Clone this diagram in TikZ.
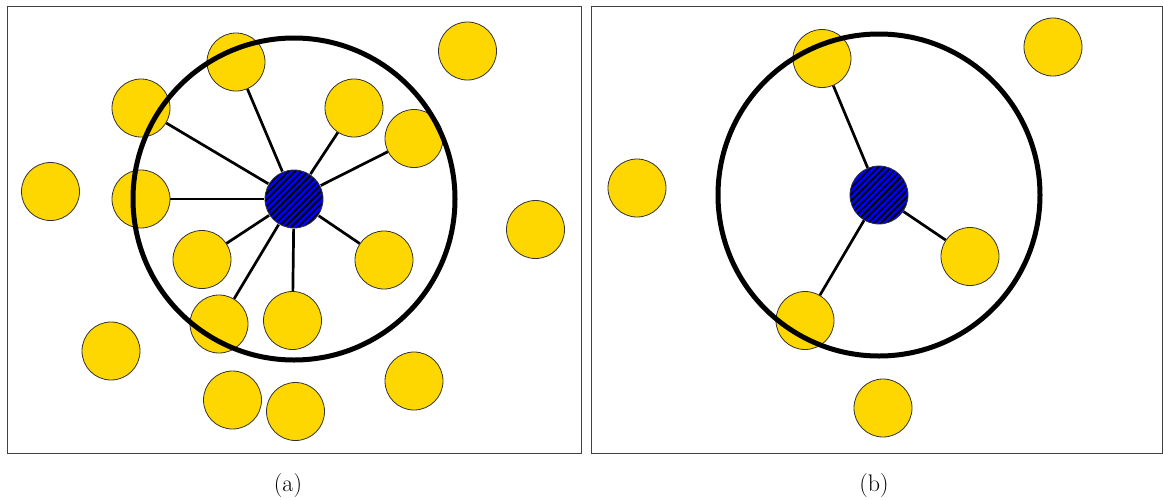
\documentclass[tikz,border=0pt]{standalone}
\usetikzlibrary{patterns.meta}
\definecolor{gold}{HTML}{FFD700}
\definecolor{framegray}{HTML}{404040}
\tikzset{
  ball/.style={circle, draw=black!80, line width=0.8pt, fill=gold, minimum size=58pt, inner sep=0pt},
  hubnode/.style={circle, draw=black!80, line width=0.8pt, minimum size=58pt, inner sep=0pt,
    preaction={fill=blue}, pattern={Lines[angle=45,distance=4.6pt,line width=1.8pt]}, pattern color=black},
  linkline/.style={line width=2.7pt},
  rangecircle/.style={line width=5pt},
  panelbox/.style={draw=framegray, line width=1pt},
  captiontext/.style={font=\fontsize{24}{28}\selectfont, anchor=base}
}
\begin{document}
\begin{tikzpicture}[x=1pt,y=-1pt]
\useasboundingbox (0,0) rectangle (1163,499);
\fill[white] (0,0) rectangle (1163,499);
% panels
\node[panelbox, minimum width=574pt, minimum height=447pt, inner sep=0pt] (pa) at (294,229.5) {};
\node[panelbox, minimum width=571pt, minimum height=447pt, inner sep=0pt] (pb) at (876.5,229.5) {};
% ---------- panel (a) ----------
\coordinate (ca) at (294,199);
\node[ball] (a1) at (236,62) {};
\node[ball] (a2) at (141,108) {};
\node[ball] (a3) at (141,199) {};
\node[ball] (a4) at (50.5,191.5) {};
\node[ball] (a5) at (467.5,51) {};
\node[ball] (a6) at (354,108) {};
\node[ball] (a7) at (414,138.5) {};
\node[ball] (a8) at (535.5,229.5) {};
\node[ball] (a9) at (202,259.5) {};
\node[ball] (a10) at (384,260) {};
\node[ball] (a11) at (219,324) {};
\node[ball] (a12) at (292.5,320.5) {};
\node[ball] (a13) at (111,351) {};
\node[ball] (a14) at (232.5,400) {};
\node[ball] (a15) at (295.5,411.5) {};
\node[ball] (a16) at (414,381) {};
\node[hubnode] (ba) at (ca) {};
\foreach \t in {a1,a2,a3,a6,a7,a9,a10,a11,a12}
  \draw[linkline] (ba) -- (\t);
\draw[rangecircle] (ca) circle[radius=161];
\node[captiontext] (capa) at (288,491) {(a)};
% ---------- panel (b) ----------
\coordinate (cb) at (879,195);
\node[ball] (b1) at (822,58.5) {};
\node[ball] (b2) at (637,188) {};
\node[ball] (b3) at (1053,47) {};
\node[ball] (b4) at (970,256.5) {};
\node[ball] (b5) at (805,320.5) {};
\node[ball] (b6) at (883,408) {};
\node[hubnode] (bb) at (cb) {};
\foreach \t in {b1,b4,b5}
  \draw[linkline] (bb) -- (\t);
\draw[rangecircle] (cb) circle[radius=161];
\node[captiontext] (capb) at (874,491) {(b)};
\end{tikzpicture}
\end{document}
